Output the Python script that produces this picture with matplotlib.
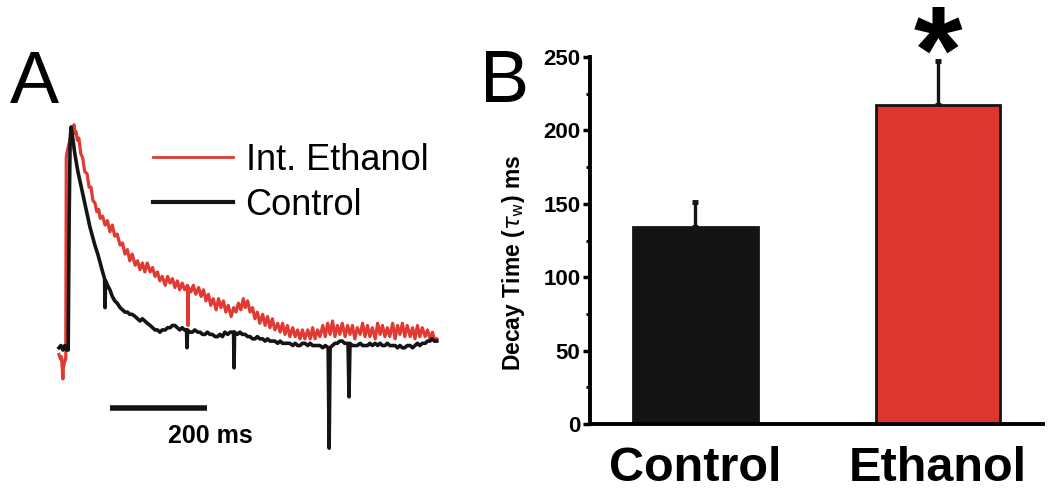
import numpy as np
import matplotlib.pyplot as plt
from matplotlib.lines import Line2D

plt.rcParams['font.family'] = ['Liberation Sans', 'DejaVu Sans']

RED = '#dd3530'
BLK = '#141414'

# --- Panel A: normalised current traces (time in ms, amplitude in % of peak)
t_ctrl = [0, 4, 8, 12, 16, 19, 21, 23, 25, 27, 29, 32, 35, 39, 43, 48, 54, 59, 64, 69, 74, 80, 85, 90, 94, 95, 96,
          100, 105, 110, 115, 120, 126, 131, 136, 141, 146, 151, 157, 162, 167, 172, 177, 182, 188, 193, 198, 203,
          208, 213, 219, 224, 229, 234, 239, 244, 249, 254, 259, 263, 264, 265, 270, 275, 280, 286, 291, 296, 301,
          306, 311, 316, 322, 327, 332, 337, 342, 348, 353, 358, 360, 361, 362, 368, 373, 378, 384, 389, 394, 399,
          404, 409, 414, 420, 425, 430, 435, 440, 445, 451, 456, 461, 466, 471, 476, 482, 487, 492, 497, 502, 507,
          513, 518, 523, 528, 533, 538, 544, 549, 555, 557, 559, 564, 569, 574, 579, 584, 589, 596, 598, 600, 605,
          610, 615, 621, 626, 631, 636, 641, 646, 652, 657, 662, 667, 672, 677, 682, 688, 693, 698, 703, 708, 713,
          718, 724, 729, 734, 739, 744, 749, 755, 760, 765, 769, 774, 779]
a_ctrl = [1, 2, 0, 2, 0, 0, 60, 94, 100, 97, 94, 89, 85, 80, 76, 71, 65, 60, 55, 51, 47, 43, 39, 35, 32, 19, 31,
          29, 27, 24, 22, 21, 19, 18, 17, 17, 16, 16, 15, 14, 13, 14, 13, 12, 11, 10, 9, 9,
          8, 9, 9, 10, 10, 11, 11, 10, 9, 10, 9, 9, 1, 9, 8, 8, 9, 8, 8, 7, 7,
          8, 7, 7, 6, 6, 7, 6, 8, 7, 8, 8, 8, -8, 8, 7, 8, 7, 7, 6, 6, 5,
          5, 6, 5, 5, 4, 5, 4, 4, 4, 3, 4, 3, 3, 3, 3, 2, 3, 2, 2, 3, 3,
          2, 3, 2, 2, 2, 2, 1, 2, 1, -44, 1, 2, 3, 3, 4, 4, 3, 3, -21, 3, 2,
          2, 2, 3, 2, 2, 2, 3, 2, 3, 2, 3, 2, 2, 3, 2, 2, 2, 1, 2, 1, 1,
          2, 2, 1, 2, 3, 2, 3, 3, 4, 4, 5, 4, 4]

t_eth = [0, 3, 5, 7, 8, 9, 11, 13, 14, 15, 16, 20, 23, 27, 31, 33, 35, 38, 41, 45, 49, 53, 58, 62, 66, 70, 74, 78,
         82, 85, 90, 95, 100, 105, 110, 115, 120, 126, 131, 136, 141, 146, 151, 157, 162, 167, 172, 177, 182, 188,
         193, 198, 203, 208, 213, 219, 224, 229, 234, 239, 244, 249, 254, 259, 265, 266, 267, 272, 277, 282, 288,
         293, 298, 303, 308, 313, 318, 324, 329, 334, 339, 344, 349, 355, 360, 365, 370, 375, 380, 384, 389, 394,
         399, 404, 409, 414, 420, 425, 430, 435, 440, 445, 451, 456, 461, 466, 471, 476, 482, 487, 492, 497, 502,
         507, 513, 518, 523, 528, 533, 538, 544, 549, 554, 559, 564, 569, 574, 579, 584, 590, 595, 600, 605, 610,
         615, 621, 626, 631, 636, 641, 646, 652, 657, 662, 667, 672, 677, 682, 688, 693, 698, 703, 708, 713, 718,
         724, 729, 734, 739, 744, 749, 755, 760, 765, 770, 775, 779]
a_eth = [-2, -4, -3, -9, -13, -8, -6, -4, -4, 86, 88, 92, 94, 98, 101, 97, 98, 94, 95, 88, 86, 80, 79, 73, 73, 67,
         66, 62, 63, 59, 60, 56, 58, 53, 56, 51, 52, 47, 48, 43, 45, 40, 43, 38, 40, 36, 39, 35, 39, 35,
         37, 33, 35, 31, 33, 29, 33, 30, 32, 28, 31, 27, 30, 27, 29, 11, 28, 26, 29, 25, 28,
         24, 27, 22, 25, 20, 23, 18, 23, 19, 22, 17, 20, 15, 19, 17, 21, 18, 23, 19, 22, 17,
         19, 14, 17, 12, 16, 11, 15, 10, 14, 9, 12, 8, 12, 7, 11, 6, 10, 6, 9, 5, 9,
         5, 9, 5, 10, 5, 9, 6, 11, 6, 12, 7, 13, 6, 11, 7, 12, 6, 11, 7, 11, 5,
         10, 7, 12, 6, 11, 6, 10, 5, 12, 7, 11, 6, 10, 6, 12, 5, 11, 7, 12, 6, 11,
         6, 10, 5, 11, 6, 10, 6, 9, 5, 8, 4, 5]

scale_ms = 200

# --- Panel B: decay time constants
groups = ['Control', 'Ethanol']
tau_mean = [134, 217]
tau_sem = [17, 30]

fig = plt.figure(figsize=(10.5, 4.95), dpi=100)

# panel A axes spans the left part of the figure; limits map ms / % onto the page
axA = fig.add_axes([0, 0, 450 / 1050, 1])
axA.plot(t_eth, a_eth, color='#e03a33', lw=2.3, zorder=2)
axA.plot(t_ctrl, a_ctrl, color=BLK, lw=2.6, zorder=3)
axA.set_xlim(-121.6, 806.2)
axA.set_ylim(-65.0, 156.9)
axA.axis('off')

# scale bar
axA.plot([105, 105 + scale_ms], [-26, -26], color=BLK, lw=4, solid_capstyle='butt')
axA.text(313, -33, f'{scale_ms} ms', ha='center', va='top', fontsize=18, fontweight='bold')

handles = [Line2D([], [], color='#e03a33', lw=2), Line2D([], [], color=BLK, lw=3)]
axA.legend(handles, ['Int. Ethanol', 'Control'], loc='upper left', bbox_to_anchor=(0.341, 0.712),
           frameon=False, fontsize=26, handlelength=2.2, handletextpad=0.35, labelspacing=0.29,
           borderaxespad=0, borderpad=0)

fig.text(10 / 1050, 1 - 103 / 495, 'A', fontsize=53, ha='left', va='baseline')
fig.text(480 / 1050, 1 - 102 / 495, 'B', fontsize=53, ha='left', va='baseline')

# panel B
axB = fig.add_axes([590 / 1050, 71 / 495, 453 / 1050, 367 / 495])
x = np.arange(len(groups))
axB.bar(x, tau_mean, width=0.513, color=[BLK, RED], edgecolor=BLK, linewidth=2, zorder=2)
axB.errorbar(x, tau_mean, yerr=[[0, 0], tau_sem], fmt='none', ecolor=BLK, elinewidth=2.4,
             capsize=2.5, capthick=3.5, zorder=1, clip_on=False)
axB.set_xlim(-0.435, 1.433)
axB.set_ylim(0, 250)
axB.set_yticks(np.arange(0, 251, 50))
axB.set_yticks(np.arange(25, 250, 50), minor=True)
axB.set_xticks(x)
axB.set_xticklabels(groups, fontsize=35, fontweight='bold')
axB.tick_params(axis='x', length=0, pad=16)
axB.tick_params(axis='y', which='major', length=5, width=2.5, labelsize=16, pad=2)
axB.tick_params(axis='y', which='minor', length=3, width=2)
for lab in axB.get_yticklabels():
    lab.set_fontweight('bold')
for s in ['top', 'right']:
    axB.spines[s].set_visible(False)
for s in ['left', 'bottom']:
    axB.spines[s].set_linewidth(2.8)
axB.set_ylabel(r'Decay Time ($\tau_{\rm w}$) ms', fontsize=16.5, fontweight='bold')
axB.yaxis.set_label_coords(-0.139, 0.44)
axB.text(1, 226, '*', ha='center', va='baseline', fontsize=90, fontweight='bold', clip_on=False)

fig.savefig('out.png', dpi=100)
